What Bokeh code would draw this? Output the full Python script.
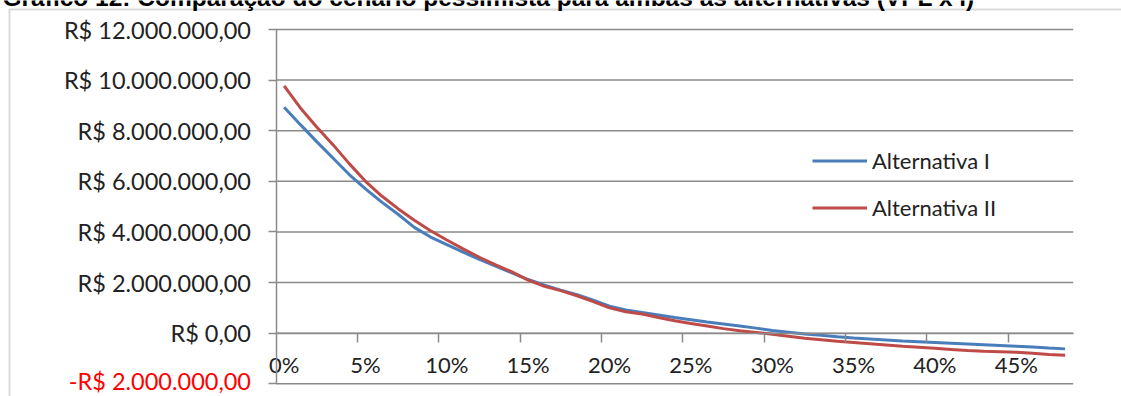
from bokeh.plotting import figure
from bokeh.models import (ColumnDataSource, FixedTicker, LinearAxis, Legend, LegendItem,
                          Label, BoxAnnotation, Range1d)
from bokeh.embed import file_html
from bokeh.resources import INLINE

# Discount rates (percent) and NPV for each alternative, pessimistic scenario (R$ millions)
rates = list(range(0, 49))
alt_1 = [8.93, 8.24, 7.57, 6.92, 6.27, 5.70, 5.18, 4.70, 4.18, 3.80,
         3.50, 3.20, 2.92, 2.65, 2.38, 2.12, 1.90, 1.70, 1.52, 1.30,
         1.07, 0.92, 0.82, 0.72, 0.62, 0.53, 0.44, 0.36, 0.28, 0.20,
         0.11, 0.04, -0.03, -0.08, -0.14, -0.19, -0.23, -0.27, -0.31, -0.34,
         -0.37, -0.40, -0.43, -0.46, -0.49, -0.52, -0.55, -0.59, -0.62]
alt_2 = [9.77, 8.90, 8.15, 7.45, 6.70, 6.00, 5.42, 4.92, 4.46, 4.05,
         3.68, 3.33, 3.00, 2.70, 2.42, 2.10, 1.85, 1.68, 1.48, 1.25,
         1.00, 0.85, 0.76, 0.62, 0.49, 0.38, 0.28, 0.18, 0.10, 0.03,
         -0.04, -0.12, -0.20, -0.26, -0.32, -0.37, -0.42, -0.47, -0.52, -0.56,
         -0.60, -0.64, -0.68, -0.71, -0.73, -0.75, -0.79, -0.84, -0.87]
series_names = ["Alternativa I", "Alternativa II"]
series_colors = ["#4a7ebb", "#be4b48"]

y_ticks = [0, 2e6, 4e6, 6e6, 8e6, 10e6, 12e6]
y_labels = ["R$ 0,00", "R$ 2.000.000,00", "R$ 4.000.000,00", "R$ 6.000.000,00",
            "R$ 8.000.000,00", "R$ 10.000.000,00", "R$ 12.000.000,00"]
y_neg_tick = -2e6
y_neg_label = "-R$ 2.000.000,00"
x_label_rates = [0, 5, 10, 15, 20, 25, 30, 35, 40, 45]
title_text = "Gráfico 12: Comparação do cenário pessimista para ambas as alternativas (VPL x i)"

FONT = "Lato"
GRID = "#8a8a8a"
TXT = "#222222"
W, H = 1121, 396

# plot area inside the canvas: categories -0.5..48.5, values -2M..12M
PX_CAT = 16.27
X0_PX = 275.5
PX_M = 25.307
TOP_PX, BOT_PX = 29.0, 383.3
x_start = -0.5 - X0_PX / PX_CAT
x_end = x_start + W / PX_CAT
y_end = (12 + TOP_PX / PX_M) * 1e6
y_start = (-2 - (H - BOT_PX) / PX_M) * 1e6

src = ColumnDataSource(dict(
    x=rates,
    a1=[v * 1e6 for v in alt_1],
    a2=[v * 1e6 for v in alt_2],
))

p = figure(width=W, height=H, output_backend="svg", toolbar_location=None,
           x_range=Range1d(x_start, x_end), y_range=Range1d(y_start, y_end),
           min_border=0, x_axis_type=None, y_axis_type=None)
p.outline_line_color = None
p.background_fill_color = "white"
p.border_fill_color = "white"

# horizontal gridlines across the category span
all_y = [y_neg_tick] + y_ticks
grid_src = ColumnDataSource(dict(y=all_y, x0=[-0.5] * len(all_y), x1=[48.5] * len(all_y)))
p.segment(x0="x0", x1="x1", y0="y", y1="y", source=grid_src, line_color=GRID, line_width=1.5)

# value axis at the left edge of the category span
yax = LinearAxis(ticker=FixedTicker(ticks=y_ticks), fixed_location=-0.5, bounds=(-2e6, 12e6))
yax.major_label_overrides = {int(t): lab for t, lab in zip(y_ticks, y_labels)}
yax.axis_line_color = GRID
yax.axis_line_width = 1.5
yax.major_tick_line_color = GRID
yax.major_tick_line_width = 1.5
yax.major_tick_out = 8
yax.major_tick_in = 0
yax.minor_tick_line_color = None
yax.major_label_standoff = 17
yax.major_label_text_font = FONT
yax.major_label_text_font_size = "23.5px"
yax.major_label_text_color = TXT
p.add_layout(yax, "left")

# negative value tick, labelled in red
yneg = LinearAxis(ticker=FixedTicker(ticks=[y_neg_tick]), fixed_location=-0.5, bounds=(-2e6, 12e6))
yneg.major_label_overrides = {int(y_neg_tick): y_neg_label}
yneg.axis_line_color = None
yneg.major_tick_line_color = GRID
yneg.major_tick_line_width = 1.5
yneg.major_tick_out = 8
yneg.major_tick_in = 0
yneg.minor_tick_line_color = None
yneg.major_label_standoff = 17
yneg.major_label_text_font = FONT
yneg.major_label_text_font_size = "23.5px"
yneg.major_label_text_color = "#ff0000"
p.add_layout(yneg, "left")

# category axis on the zero line: labels on categories, tick marks between them
xax = LinearAxis(ticker=FixedTicker(ticks=x_label_rates,
                                    minor_ticks=[r + 4.5 for r in x_label_rates[:-1]]),
                 fixed_location=0, bounds=(-0.5, 48.5))
xax.major_label_overrides = {r: f"{r}%" for r in x_label_rates}
xax.axis_line_color = GRID
xax.axis_line_width = 1.5
xax.major_tick_line_color = None
xax.major_tick_out = 0
xax.major_tick_in = 0
xax.minor_tick_line_color = GRID
xax.minor_tick_line_width = 1.5
xax.minor_tick_out = 9
xax.minor_tick_in = 0
xax.major_label_standoff = 9
xax.major_label_text_font = FONT
xax.major_label_text_font_size = "22px"
xax.major_label_text_color = TXT
p.add_layout(xax, "below")

r1 = p.line("x", "a1", source=src, line_color=series_colors[0], line_width=3)
r2 = p.line("x", "a2", source=src, line_color=series_colors[1], line_width=3)

legend = Legend(items=[LegendItem(label=series_names[0], renderers=[r1]),
                       LegendItem(label=series_names[1], renderers=[r2])],
                location=(812, 175), orientation="vertical",
                padding=0, margin=0, spacing=20,
                glyph_width=55, glyph_height=27, label_height=27, label_standoff=5,
                label_text_font=FONT, label_text_font_size="22px", label_text_color=TXT,
                background_fill_alpha=0, border_line_color=None)
p.add_layout(legend, "center")

# outer chart border and caption above it
p.add_layout(BoxAnnotation(left=9, right=W + 100, top=H - 9, bottom=-100,
                           left_units="screen", right_units="screen",
                           top_units="screen", bottom_units="screen",
                           fill_alpha=0, line_color="#868686", line_width=2))
p.add_layout(Label(x=2, y=H + 3, x_units="screen", y_units="screen", text=title_text,
                   text_baseline="alphabetic", text_align="left",
                   text_font="Liberation Sans", text_font_style="bold",
                   text_font_size="24.5px", text_color="#000000"))

open("out.html", "w").write(file_html(p, INLINE))
